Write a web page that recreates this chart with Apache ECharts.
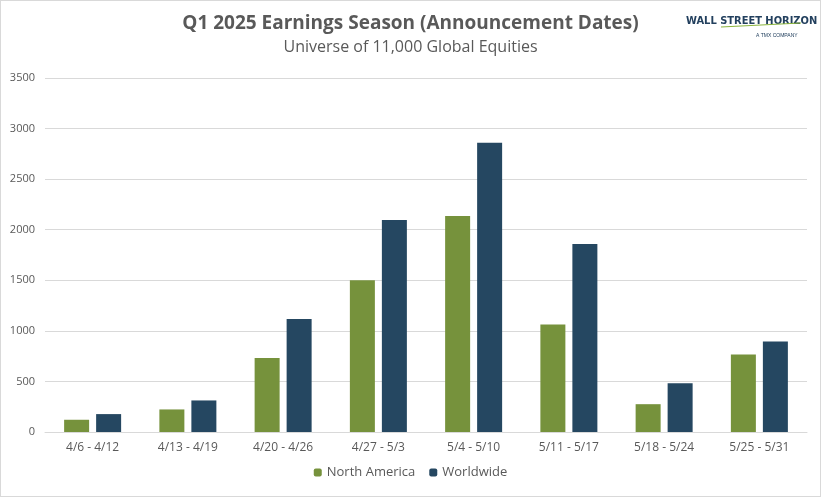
<!DOCTYPE html>
<html>
<head>
<meta charset="utf-8">
<script src="https://cdn.jsdelivr.net/npm/echarts@6/dist/echarts.min.js"></script>
<style>html,body{margin:0;padding:0;background:#fff}#main{width:819px;height:495px;border:1px solid #d9d9d9}</style>
</head>
<body>
<div id="main"></div>
<script>
var weeks = ['4/6 - 4/12', '4/13 - 4/19', '4/20 - 4/26', '4/27 - 5/3', '5/4 - 5/10', '5/11 - 5/17', '5/18 - 5/24', '5/25 - 5/31'];
var northAmerica = [121, 223, 731, 1500, 2135, 1062, 275, 767];
var worldwide = [177, 312, 1118, 2097, 2860, 1858, 482, 895];

var chart = echarts.init(document.getElementById('main'));
chart.setOption({
  animation: false,
  textStyle: {fontFamily: 'Open Sans'},
  title: {
    text: 'Q1 2025 Earnings Season (Announcement Dates)',
    subtext: 'Universe of 11,000 Global Equities',
    left: 'center', top: 8, itemGap: 6,
    textStyle: {fontSize: 19, fontWeight: 'bold', color: '#595959'},
    subtextStyle: {fontSize: 16, color: '#595959'}
  },
  graphic: [
    {type: 'text', left: 685, top: 15, style: {text: 'WALL STREET HORIZON', font: 'bold 11px "Liberation Sans Narrow", "DejaVu Sans Condensed", sans-serif', fill: '#23405e'}},
    {type: 'line', shape: {x1: 720, y1: 26, x2: 800, y2: 22}, style: {stroke: '#8ab43c', lineWidth: 1}},
    {type: 'text', left: 755, top: 32, style: {text: 'A TMX COMPANY', font: '5px sans-serif', fill: '#23405e'}}
  ],
  legend: {
    bottom: 12, itemWidth: 8, itemHeight: 8, itemGap: 14,
    textStyle: {fontSize: 13, color: '#595959'},
    data: ['North America', 'Worldwide']
  },
  grid: {left: 44, right: 13, top: 77, bottom: 64},
  xAxis: {
    type: 'category', data: weeks,
    axisTick: {show: false},
    axisLine: {lineStyle: {color: '#d9d9d9'}},
    axisLabel: {color: '#595959', fontSize: 12, margin: 10}
  },
  yAxis: {
    type: 'value', min: 0, max: 3500, interval: 500,
    axisLabel: {color: '#595959', fontSize: 11, margin: 10, formatter: function (v) { return String(v); }},
    splitLine: {lineStyle: {color: '#d9d9d9'}}
  },
  series: [
    {name: 'North America', type: 'bar', data: northAmerica, barWidth: 25, barGap: '28%', itemStyle: {color: '#76923c'}},
    {name: 'Worldwide', type: 'bar', data: worldwide, barWidth: 25, itemStyle: {color: '#254761'}}
  ]
});
</script>
</body>
</html>
